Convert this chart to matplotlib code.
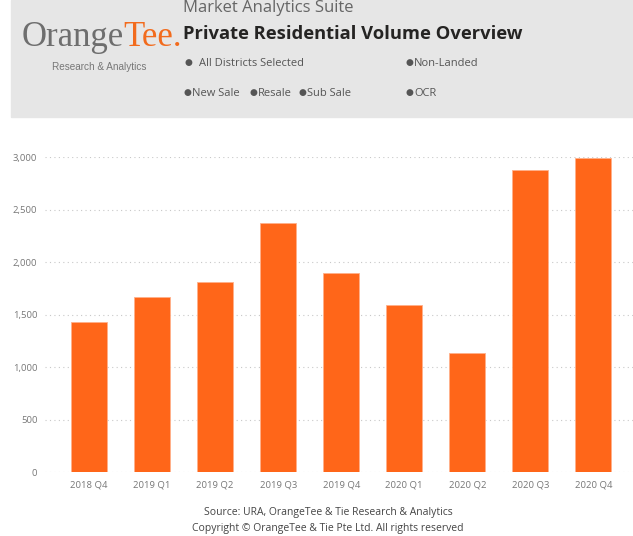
import matplotlib
matplotlib.use("Agg")
import matplotlib.pyplot as plt
from matplotlib.patches import Rectangle

# data
quarters = ["2018 Q4", "2019 Q1", "2019 Q2", "2019 Q3", "2019 Q4",
            "2020 Q1", "2020 Q2", "2020 Q3", "2020 Q4"]
volume = [1432, 1669, 1812, 2373, 1895, 1596, 1139, 2876, 2995]
y_ticks = [0, 500, 1000, 1500, 2000, 2500, 3000]

W, H = 633, 536
ORANGE = "#FF6619"
FONT = ["Open Sans", "DejaVu Sans"]

fig = plt.figure(figsize=(W / 100, H / 100), dpi=100)


def px(x, y):
    # pixel coords (from top-left) -> figure fraction
    return x / W, 1 - y / H


# header panel
fig.patches.append(Rectangle(px(11, 117), (W - 11) / W, 117 / H,
                             transform=fig.transFigure, color="#E6E6E6", zorder=0))

# logo
fig.text(*px(22, 37), "Orange", family="Liberation Serif", fontsize=25,
         color="#6E6E6E", va="center", ha="left")
fig.text(*px(123, 37), "Tee.", family="Liberation Serif", fontsize=25,
         color="#F26B1D", va="center", ha="left")
fig.text(*px(99, 67), "Research & Analytics", family="Liberation Sans", fontsize=7.2,
         color="#777777", va="center", ha="center")

# header texts
fig.text(*px(183, 8), "Market Analytics Suite", family=FONT, fontsize=12,
         color="#666666", va="center", ha="left")
fig.text(*px(183, 34), "Private Residential Volume Overview", family=FONT,
         fontsize=13.2, fontweight="bold", color="#252423", va="center", ha="left")

# filter chips: (bullet x, text x, y, label)
filters = [(188, 199, 63, "All Districts Selected"),
           (409, 414, 63, "Non-Landed"),
           (187, 192, 93, "New Sale"),
           (253, 258, 93, "Resale"),
           (302, 307, 93, "Sub Sale"),
           (409, 414, 93, "OCR")]
for bx, tx, y, s in filters:
    fig.text(*px(bx, y), "\u25cf", family="DejaVu Sans", fontsize=6.5,
             color="#555555", va="center", ha="center")
    fig.text(*px(tx, y), s, family=FONT, fontsize=8.0, color="#555555",
             va="center", ha="left")

# chart
ax_left, ax_right = 45, 633
ax_top, ax_bot = 157, 472.3
ax = fig.add_axes([ax_left / W, 1 - ax_bot / H,
                   (ax_right - ax_left) / W, (ax_bot - ax_top) / H])
xs = list(range(len(quarters)))
ax.bar(xs, volume, width=0.576, color=ORANGE, edgecolor="#FFB08A",
       linewidth=0.6, zorder=2)
ax.set_ylim(0, 3000)
ax.set_xlim(-0.70, 8.63)
ax.set_yticks(y_ticks)
ax.set_yticklabels([f"{v:,}" for v in y_ticks])
ax.set_xticks(xs)
ax.set_xticklabels(quarters)
ax.tick_params(length=0, labelsize=6.8, labelcolor="#777777")
ax.tick_params(axis="y", pad=5.5)
ax.tick_params(axis="x", pad=6)
for lab in ax.get_xticklabels() + ax.get_yticklabels():
    lab.set_family(FONT)
ax.grid(axis="y", color="#C8C8C8", linestyle=(0, (1, 3)), linewidth=0.8, zorder=0)
ax.set_axisbelow(True)
for sp in ax.spines.values():
    sp.set_visible(False)
ax.set_facecolor("none")

# footer
fig.text(*px(328, 513), "Source: URA, OrangeTee & Tie Research & Analytics",
         family=FONT, fontsize=7.5, color="#444444", ha="center", va="center")
fig.text(*px(328, 528), "Copyright \u00a9 OrangeTee & Tie Pte Ltd. All rights reserved",
         family=FONT, fontsize=7.5, color="#444444", ha="center", va="center")

fig.savefig("out.png", dpi=100)
